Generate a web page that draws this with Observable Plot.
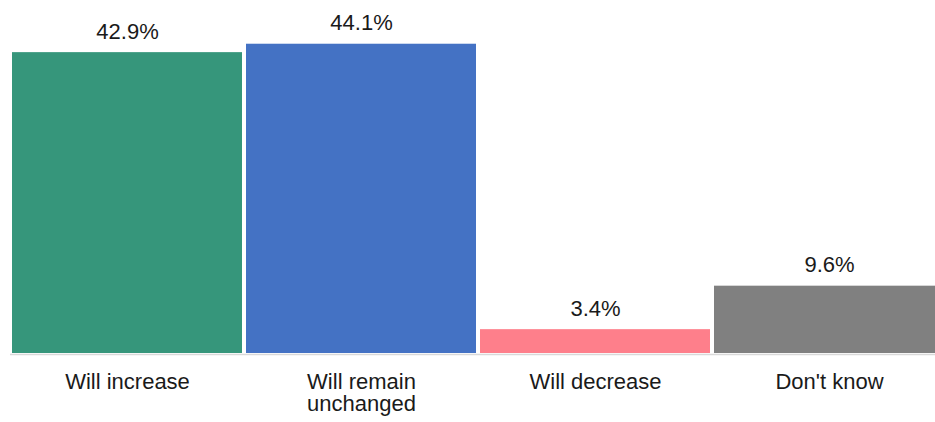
<!DOCTYPE html>
<html>
<head>
<meta charset="utf-8">
<script src="https://cdn.jsdelivr.net/npm/d3@7"></script>
<script src="https://cdn.jsdelivr.net/npm/@observablehq/plot@0.6"></script>
<style>
  html, body { margin: 0; padding: 0; background: #fff; }
  #chart svg { display: block; }
</style>
</head>
<body>
<div id="chart"></div>
<script>
const categories = ["Will increase", "Will remain unchanged", "Will decrease", "Don't know"];
const tickLabels = ["Will increase", "Will remain\nunchanged", "Will decrease", "Don't know"];
const values = [42.9, 44.1, 3.4, 9.6];
const colors = ["#36967b", "#4472c4", "#fe7f8b", "#808080"];

const data = categories.map((c, i) => ({cat: c, label: tickLabels[i], value: values[i], color: colors[i]}));

const chart = Plot.plot({
  width: 935,
  height: 422,
  marginLeft: 10,
  marginRight: 0,
  marginTop: 0,
  marginBottom: 0,
  style: {fontFamily: "'Liberation Sans', Arial, sans-serif", background: "#fff"},
  x: {domain: categories, range: [10, 946], padding: 0, axis: null},
  y: {domain: [0, 50], range: [353, 2.35], axis: null},
  marks: [
    Plot.barY(data, {x: "cat", y: "value", fill: "color", insetLeft: 2, insetRight: 2}),
    Plot.ruleY([0], {stroke: "#d9d9d9", strokeWidth: 1.4, dy: 1}),
    Plot.text(data, {x: "cat", y: "value", text: d => d.value.toFixed(1) + "%", lineAnchor: "bottom", dy: -14, fontSize: 22, fill: "#1a1a1a"}),
    Plot.text(data, {x: "cat", y: 0, text: "label", lineAnchor: "top", dy: 19.5, fontSize: 22, lineHeight: 1.0, fill: "#1a1a1a"})
  ]
});
document.getElementById("chart").append(chart);
</script>
</body>
</html>
